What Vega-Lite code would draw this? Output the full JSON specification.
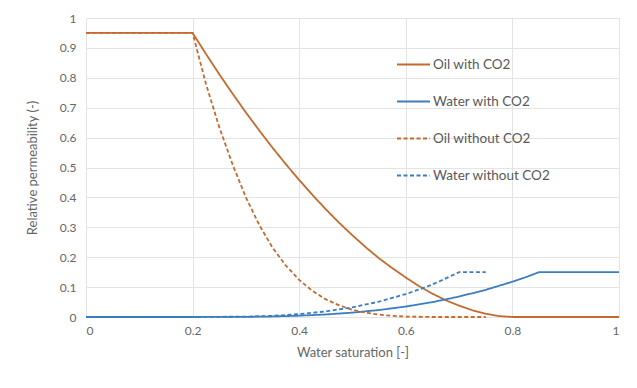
{
  "$schema": "https://vega.github.io/schema/vega-lite/v6.json",
  "autosize": "none",
  "width": 533,
  "height": 299,
  "padding": {"left": 86, "top": 18, "right": 18, "bottom": 71},
  "background": "white",
  "config": {
    "view": {"stroke": null},
    "font": "Lato",
    "axis": {
      "gridColor": "#e4e4e4",
      "gridWidth": 1,
      "domain": false,
      "ticks": false,
      "labelColor": "#666666",
      "labelFontSize": 12,
      "titleColor": "#666666",
      "titleFontSize": 13,
      "titleFontWeight": "normal"
    }
  },
  "data": {
    "values": [
      {"x": 0, "y": 0.95, "s": "Oil with CO2"},
      {"x": 0.2, "y": 0.95, "s": "Oil with CO2"},
      {"x": 0.225, "y": 0.88, "s": "Oil with CO2"},
      {"x": 0.25, "y": 0.812, "s": "Oil with CO2"},
      {"x": 0.275, "y": 0.747, "s": "Oil with CO2"},
      {"x": 0.3, "y": 0.684, "s": "Oil with CO2"},
      {"x": 0.325, "y": 0.624, "s": "Oil with CO2"},
      {"x": 0.35, "y": 0.566, "s": "Oil with CO2"},
      {"x": 0.375, "y": 0.511, "s": "Oil with CO2"},
      {"x": 0.4, "y": 0.458, "s": "Oil with CO2"},
      {"x": 0.425, "y": 0.408, "s": "Oil with CO2"},
      {"x": 0.45, "y": 0.36, "s": "Oil with CO2"},
      {"x": 0.475, "y": 0.315, "s": "Oil with CO2"},
      {"x": 0.5, "y": 0.273, "s": "Oil with CO2"},
      {"x": 0.525, "y": 0.233, "s": "Oil with CO2"},
      {"x": 0.55, "y": 0.196, "s": "Oil with CO2"},
      {"x": 0.575, "y": 0.163, "s": "Oil with CO2"},
      {"x": 0.6, "y": 0.132, "s": "Oil with CO2"},
      {"x": 0.625, "y": 0.103, "s": "Oil with CO2"},
      {"x": 0.65, "y": 0.078, "s": "Oil with CO2"},
      {"x": 0.675, "y": 0.056, "s": "Oil with CO2"},
      {"x": 0.7, "y": 0.038, "s": "Oil with CO2"},
      {"x": 0.725, "y": 0.0225, "s": "Oil with CO2"},
      {"x": 0.75, "y": 0.011, "s": "Oil with CO2"},
      {"x": 0.775, "y": 0.003, "s": "Oil with CO2"},
      {"x": 0.8, "y": 0, "s": "Oil with CO2"},
      {"x": 0.85, "y": 0, "s": "Oil with CO2"},
      {"x": 0.9, "y": 0, "s": "Oil with CO2"},
      {"x": 0.95, "y": 0, "s": "Oil with CO2"},
      {"x": 1, "y": 0, "s": "Oil with CO2"},

      {"x": 0, "y": 0, "s": "Water with CO2"},
      {"x": 0.2, "y": 0, "s": "Water with CO2"},
      {"x": 0.3, "y": 0.0005, "s": "Water with CO2"},
      {"x": 0.35, "y": 0.0018, "s": "Water with CO2"},
      {"x": 0.4, "y": 0.0044, "s": "Water with CO2"},
      {"x": 0.45, "y": 0.0085, "s": "Water with CO2"},
      {"x": 0.5, "y": 0.0147, "s": "Water with CO2"},
      {"x": 0.55, "y": 0.0234, "s": "Water with CO2"},
      {"x": 0.6, "y": 0.035, "s": "Water with CO2"},
      {"x": 0.65, "y": 0.0498, "s": "Water with CO2"},
      {"x": 0.7, "y": 0.0683, "s": "Water with CO2"},
      {"x": 0.75, "y": 0.0909, "s": "Water with CO2"},
      {"x": 0.8, "y": 0.118, "s": "Water with CO2"},
      {"x": 0.825, "y": 0.133, "s": "Water with CO2"},
      {"x": 0.85, "y": 0.15, "s": "Water with CO2"},
      {"x": 0.9, "y": 0.15, "s": "Water with CO2"},
      {"x": 0.95, "y": 0.15, "s": "Water with CO2"},
      {"x": 1, "y": 0.15, "s": "Water with CO2"},

      {"x": 0, "y": 0.95, "s": "Oil without CO2"},
      {"x": 0.2, "y": 0.95, "s": "Oil without CO2"},
      {"x": 0.225, "y": 0.78, "s": "Oil without CO2"},
      {"x": 0.25, "y": 0.635, "s": "Oil without CO2"},
      {"x": 0.275, "y": 0.51, "s": "Oil without CO2"},
      {"x": 0.3, "y": 0.4, "s": "Oil without CO2"},
      {"x": 0.325, "y": 0.308, "s": "Oil without CO2"},
      {"x": 0.35, "y": 0.232, "s": "Oil without CO2"},
      {"x": 0.375, "y": 0.172, "s": "Oil without CO2"},
      {"x": 0.4, "y": 0.124, "s": "Oil without CO2"},
      {"x": 0.425, "y": 0.087, "s": "Oil without CO2"},
      {"x": 0.45, "y": 0.059, "s": "Oil without CO2"},
      {"x": 0.475, "y": 0.039, "s": "Oil without CO2"},
      {"x": 0.5, "y": 0.024, "s": "Oil without CO2"},
      {"x": 0.525, "y": 0.0143, "s": "Oil without CO2"},
      {"x": 0.55, "y": 0.008, "s": "Oil without CO2"},
      {"x": 0.575, "y": 0.0037, "s": "Oil without CO2"},
      {"x": 0.6, "y": 0.0015, "s": "Oil without CO2"},
      {"x": 0.65, "y": 0, "s": "Oil without CO2"},
      {"x": 0.7, "y": 0, "s": "Oil without CO2"},
      {"x": 0.75, "y": 0, "s": "Oil without CO2"},

      {"x": 0, "y": 0, "s": "Water without CO2"},
      {"x": 0.2, "y": 0, "s": "Water without CO2"},
      {"x": 0.3, "y": 0.0012, "s": "Water without CO2"},
      {"x": 0.35, "y": 0.004, "s": "Water without CO2"},
      {"x": 0.4, "y": 0.0096, "s": "Water without CO2"},
      {"x": 0.45, "y": 0.0188, "s": "Water without CO2"},
      {"x": 0.5, "y": 0.0324, "s": "Water without CO2"},
      {"x": 0.55, "y": 0.0515, "s": "Water without CO2"},
      {"x": 0.6, "y": 0.0768, "s": "Water without CO2"},
      {"x": 0.625, "y": 0.092, "s": "Water without CO2"},
      {"x": 0.65, "y": 0.109, "s": "Water without CO2"},
      {"x": 0.675, "y": 0.129, "s": "Water without CO2"},
      {"x": 0.7, "y": 0.15, "s": "Water without CO2"},
      {"x": 0.75, "y": 0.15, "s": "Water without CO2"}
    ]
  },
  "mark": {"type": "line", "strokeWidth": 1.8, "interpolate": "linear"},
  "encoding": {
    "x": {
      "field": "x", "type": "quantitative",
      "scale": {"domain": [0, 1], "nice": false},
      "axis": {"values": [0, 0.2, 0.4, 0.6, 0.8, 1], "title": "Water saturation [-]", "labelPadding": 8, "titlePadding": 10, "format": "~g"}
    },
    "y": {
      "field": "y", "type": "quantitative",
      "scale": {"domain": [0, 1], "nice": false},
      "axis": {"values": [0, 0.1, 0.2, 0.3, 0.4, 0.5, 0.6, 0.7, 0.8, 0.9, 1], "title": "Relative permeability (-)", "labelPadding": 10, "titlePadding": 20, "format": "~g"}
    },
    "color": {
      "field": "s", "type": "nominal",
      "scale": {
        "domain": ["Oil with CO2", "Water with CO2", "Oil without CO2", "Water without CO2"],
        "range": ["#C46A2C", "#3C7DC0", "#C46A2C", "#3C7DC0"]
      },
      "legend": {
        "title": null,
        "orient": "none",
        "legendX": 310,
        "legendY": 29,
        "symbolType": "stroke",
        "symbolSize": 1089,
        "symbolStrokeWidth": 2,
        "labelFontSize": 13.5,
        "labelColor": "#595959",
        "rowPadding": 13,
        "labelOffset": 2
      }
    },
    "strokeDash": {
      "field": "s", "type": "nominal",
      "scale": {
        "domain": ["Oil with CO2", "Water with CO2", "Oil without CO2", "Water without CO2"],
        "range": [[1, 0], [1, 0], [4, 2.5], [4, 2.5]]
      },
      "legend": null
    }
  }
}
